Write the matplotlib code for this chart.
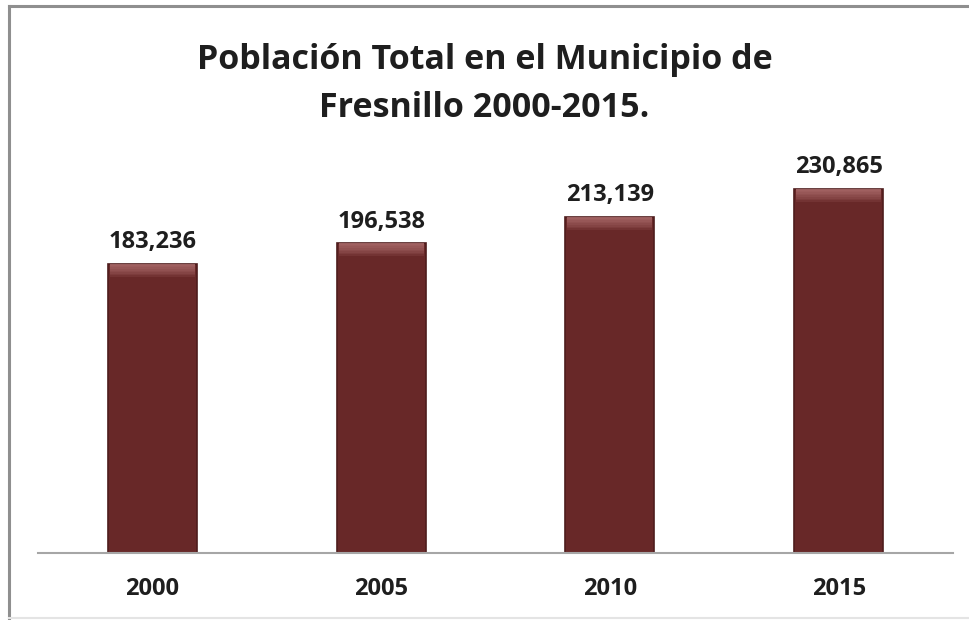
import matplotlib.pyplot as plt
from matplotlib.lines import Line2D
import numpy as np

# data
years = ['2000', '2005', '2010', '2015']
poblacion = [183236, 196538, 213139, 230865]
titulo = 'Población Total en el Municipio de\nFresnillo 2000-2015.'

bar_color = '#682828'
edge_color = '#4e1c1c'
text_color = '#1e1e1e'

plt.rcParams['font.family'] = ['Open Sans', 'DejaVu Sans']

fig = plt.figure(figsize=(9.69, 6.2), dpi=100)
ax = fig.add_axes([38/969, (620-553)/620, 915/969, 394/620])

x = np.arange(len(years))
w = 0.39
ax.bar(x, poblacion, width=w, color=bar_color, edgecolor=edge_color, linewidth=1.2, zorder=2)

# soft lighter bevel on the top of each bar (stacked translucent strips)
vals = np.array(poblacion, dtype=float)
for h in range(1000, 9000, 1000):
    ax.bar(x, h, width=w*0.95, bottom=vals-h, color='#c08080', alpha=0.13, linewidth=0, zorder=3)

for xi, v in zip(x, poblacion):
    ax.annotate(f'{v:,}', (xi, v), xytext=(0, 7), textcoords='offset points',
                ha='center', va='bottom', fontsize=17, fontweight='bold', color=text_color)

ax.set_xlim(-0.5, 3.5)
ax.set_ylim(0, 250000)
ax.set_xticks(x)
ax.set_xticklabels(years, fontsize=17, fontweight='bold', color=text_color)
ax.tick_params(axis='x', length=0, pad=17)
ax.set_yticks([])
for s in ['top', 'right', 'left']:
    ax.spines[s].set_visible(False)
ax.spines['bottom'].set_color('#a6a6a6')
ax.spines['bottom'].set_linewidth(1.5)

fig.text(0.5, 0.864, titulo, ha='center', va='center', fontsize=24.5, fontweight='bold',
         color=text_color, linespacing=1.55)

# chart frame
fig.add_artist(Line2D([9/969, 9/969], [0, 1-6/620], color='#8f8f8f', lw=2.2))
fig.add_artist(Line2D([9/969, 1], [1-6/620, 1-6/620], color='#8f8f8f', lw=2.2))
fig.add_artist(Line2D([9/969, 1], [2/620, 2/620], color='#e4e4e4', lw=1.5))

fig.savefig('out.png', dpi=100)
